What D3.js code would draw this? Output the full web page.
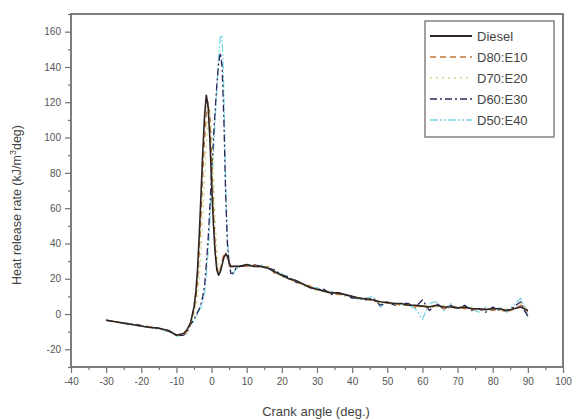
<!DOCTYPE html>
<html><head><meta charset="utf-8">
<script src="https://cdn.jsdelivr.net/npm/d3@7"></script>
<style>body{margin:0;background:#fff}svg{display:block}</style>
</head><body><svg id="c" width="576" height="420"></svg>
<script>
const seriesNames = ["Diesel","D80:E10","D70:E20","D60:E30","D50:E40"];
const angles = [-30,-27,-24,-21,-18,-15,-12,-10,-8,-7,
 -6,-5,-4.5,-4,-3.5,-3,-2.5,-2,-1.5,-1,-0.5,0,0.5,1,1.5,2,2.5,3,3.5,4,4.5,5,5.5,6,7,8,
 10,12,14,16,18,20,22,24,26,28,30,32,34,36,38,40,42,44,46,48,50,52,54,56,58,60,62,64,66,68,70,72,74,76,78,80,82,84,86,88,89,90];
const diesel = [-3.5,-4.5,-5.5,-6.5,-7.5,-8,-9.5,-12,-11,-9,
 -5,4,12,25,45,68,92,112,124,118,100,75,52,35,25,22,24,28,32,34,33,29,27,27,27,27,
 28,27,27,26,24,22,20,19,17,15,14,13,12,12,11,10,9,8.5,8,7,6.5,6,6,5,5,4.5,4,5,4,4,3.5,4,3,3,2.5,3,3,2,3,4,3,2];
const d80e10 = [-3.5,-4.5,-5.5,-6.5,-7,-8,-9.5,-12,-11.5,-10,
 -6,2,8,18,35,55,78,98,113,120,112,90,62,40,27,23,25,30,34,35,32,28,26,27,27,27,
 27,28,26,27,23,22,20,18,17,16,14,13,12,11,11,10,9,9,7,7,6,6,5,5,4,5,3,5,3,4,4,3,3,2,3,2,3,1,3,5,4,1];
const d70e20 = [-3.5,-4.5,-5.5,-6.5,-7.5,-8.5,-10,-12,-11.5,-10,
 -6,0,4,10,20,35,55,75,95,110,116,105,80,55,35,26,25,28,32,34,33,29,26,27,27,27,
 28,27,27,27,24,21,20,19,16,15,13,13,12,12,10,10,9,8,8,6,7,5,6,5,4,4,5,4,5,3,4,3,4,2,3,3,2,3,2,6,5,1];
const d60e30 = [-3.5,-4.5,-5.5,-6,-7.5,-8,-10,-12,-12,-10.5,
 -6,-3,-1,1,3,6,10,16,28,42,60,80,98,115,130,142,148,140,110,68,40,28,23,23,26,27,
 27,28,27,26,25,22,21,18,17,15,14,14,11,12,11,9,9,8,9,5,7,5,6,6,4,8,2,6,3,5,3,5,2,3,1,4,2,2,4,7,2,-1];
const d50e40 = [-3.5,-4.5,-5,-6.5,-7.5,-8.5,-10,-12.5,-12,-11,
 -6,-4,-2,0,2,4,7,12,22,35,52,70,90,110,128,145,157,158,125,75,42,30,24,22,26,27,
 28,27,28,26,24,23,20,19,17,15,15,13,13,11,11,10,8,9,10,4,7,6,5,5,3,-3,6,7,2,6,3,5,3,1,4,2,4,1,5,9,4,-2];
const xTicks = [-40,-30,-20,-10,0,10,20,30,40,50,60,70,80,90,100];
const yTicks = [-20,0,20,40,60,80,100,120,140,160];

const seriesValues = [diesel,d80e10,d70e20,d60e30,d50e40];
const colors = ["#2e2424","#c07838","#c9d98a","#2c2358","#7ad6e2"];
const dashes = [null,"6,4","2,4","7,3,2,3","8,2,2,2,2,2"];
const widths = [1.6,1.3,1.4,1.3,1.3];

const svg = d3.select("#c");
const L=71, R=563, T=14, B=367;
const x = d3.scaleLinear().domain([-40,100]).range([L,R]);
const y = d3.scaleLinear().domain([-30,170]).range([B,T]);
const axisCol = "#707070";
const fmt = d => String(d);

const xMinor = d3.range(-35,100,10);
const yMinor = d3.range(-30,171,10).filter(v=>v%20!==0);
const gx = svg.append("g").attr("transform",`translate(0,${B})`)
  .call(d3.axisBottom(x).tickValues(xTicks).tickSize(6).tickPadding(5).tickFormat(fmt));
const gxm = svg.append("g").attr("transform",`translate(0,${B})`)
  .call(d3.axisBottom(x).tickValues(xMinor).tickSize(3).tickFormat(""));
const gy = svg.append("g").attr("transform",`translate(${L},0)`)
  .call(d3.axisLeft(y).tickValues(yTicks).tickSize(6).tickPadding(4).tickFormat(fmt));
const gym = svg.append("g").attr("transform",`translate(${L},0)`)
  .call(d3.axisLeft(y).tickValues(yMinor).tickSize(3).tickFormat(""));
[gx,gxm,gy,gym].forEach(g=>{
  g.select(".domain").remove();
  g.selectAll("line").attr("stroke",axisCol).attr("stroke-width",1.2);
  g.selectAll("text").attr("fill","#555").style("font-family","Liberation Sans, Arial, sans-serif").style("font-size","10px");
});
svg.append("rect").attr("x",L).attr("y",T).attr("width",R-L).attr("height",B-T)
  .attr("fill","none").attr("stroke",axisCol).attr("stroke-width",1.8);

const line = d3.line().x((d,i)=>x(angles[i])).y(d=>y(d));
const order=[4,3,2,1,0];
order.forEach(k=>{
  svg.append("path").datum(seriesValues[k]).attr("d",line)
    .attr("fill","none").attr("stroke",colors[k]).attr("stroke-width",widths[k])
    .attr("stroke-dasharray",dashes[k]).attr("stroke-linejoin","round");
});

const lg = svg.append("g");
lg.append("rect").attr("x",425).attr("y",21).attr("width",129).attr("height",116)
  .attr("fill","#fff").attr("stroke",axisCol).attr("stroke-width",1.3);
seriesNames.forEach((n,i)=>{
  const yy = 36 + i*21;
  lg.append("line").attr("x1",430).attr("x2",472).attr("y1",yy).attr("y2",yy)
    .attr("stroke",colors[i]).attr("stroke-width",widths[i]+0.2).attr("stroke-dasharray",dashes[i]);
  lg.append("text").attr("x",477).attr("y",yy+4.5).text(n)
    .attr("fill","#444").style("font-family","Liberation Sans, Arial, sans-serif").style("font-size","13px");
});

svg.append("text").attr("x",316).attr("y",416).attr("text-anchor","middle")
  .attr("fill","#444").style("font-family","Liberation Sans, Arial, sans-serif").style("font-size","13px")
  .text("Crank angle (deg.)");
const yl = svg.append("text").attr("transform",`translate(21,205) rotate(-90)`).attr("text-anchor","middle")
  .attr("fill","#444").style("font-family","Liberation Sans, Arial, sans-serif").style("font-size","12.5px");
yl.append("tspan").text("Heat release rate (kJ/m");
yl.append("tspan").attr("dy",-5).style("font-size","9px").text("3");
yl.append("tspan").attr("dy",5).text("deg)");
</script></body></html>
